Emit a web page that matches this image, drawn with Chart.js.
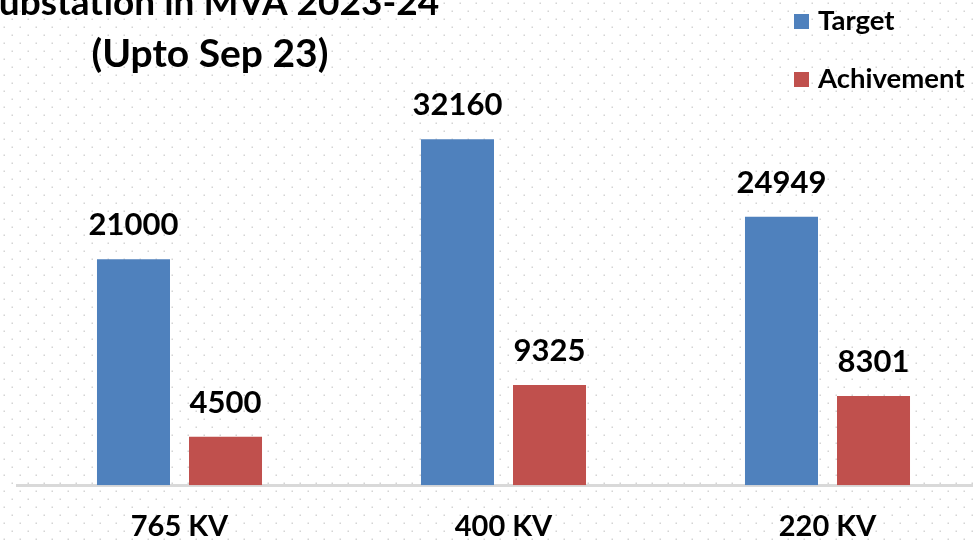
<!DOCTYPE html>
<html>
<head>
<meta charset="utf-8">
<script src="https://cdn.jsdelivr.net/npm/chart.js@4.4.1/dist/chart.umd.min.js"></script>
<style>
    html, body { margin: 0; padding: 0; background: #ffffff; overflow: hidden; }
    #wrap { position: relative; width: 1000px; height: 568px; }
</style>
</head>
<body>
<div id="wrap"><canvas id="graphe"></canvas></div>
<script>
// Données du graphique
const categories = ['765 KV', '400 KV', '220 KV'];
const target = [21000, 32160, 24949];
const achivement = [4500, 9325, 8301];
const seriesNames = ['Target', 'Achivement'];
const titleLines = ['Substation in MVA 2023-24', '(Upto Sep 23)'];

const FONT = 'Lato, "Open Sans", sans-serif';
const BLUE = '#4f81bd';
const RED = '#c0504d';

// Fond pointillé façon Excel
const dotsPlugin = {
    id: 'dots',
    beforeDraw(chart) {
        const ctx = chart.ctx;
        ctx.save();
        ctx.fillStyle = '#ffffff';
        ctx.fillRect(0, 0, chart.width, chart.height);
        ctx.fillStyle = '#d4d4d4';
        let row = 0;
        for (let y = 3; y < chart.height; y += 8) {
            const x0 = (row % 2 === 0) ? 12 : 4;
            for (let x = x0; x < chart.width; x += 16) {
                ctx.fillRect(x - 0.5, y - 0.5, 1.5, 1.5);
            }
            row++;
        }
        ctx.restore();
    }
};

// Titre, légende et valeurs au-dessus des barres
const labelsPlugin = {
    id: 'labels',
    afterDatasetsDraw(chart) {
        const ctx = chart.ctx;
        ctx.save();
        ctx.fillStyle = '#000000';
        ctx.textAlign = 'center';
        ctx.textBaseline = 'alphabetic';
        ctx.font = 'bold 31px ' + FONT;
        chart.data.datasets.forEach((ds, i) => {
            chart.getDatasetMeta(i).data.forEach((bar, j) => {
                ctx.fillText(String(ds.data[j]), bar.x, bar.y - 24);
            });
        });

        // titre
        ctx.font = 'bold 37px ' + FONT;
        ctx.fillText(titleLines[0], 209, 15);
        ctx.font = 'bold 39px ' + FONT;
        ctx.fillText(titleLines[1], 210, 67);

        // légende
        ctx.textAlign = 'left';
        ctx.font = 'bold 27.5px ' + FONT;
        const colors = [BLUE, RED];
        const ys = [14, 72];
        seriesNames.forEach((name, i) => {
            ctx.fillStyle = colors[i];
            ctx.fillRect(794, ys[i], 15, 15);
            ctx.fillStyle = '#000000';
            ctx.fillText(name, 818, ys[i] + 16);
        });
        ctx.restore();
    }
};

new Chart(document.getElementById('graphe').getContext('2d'), {
    type: 'bar',
    data: {
        labels: categories,
        datasets: [
            { label: seriesNames[0], data: target, backgroundColor: BLUE },
            { label: seriesNames[1], data: achivement, backgroundColor: RED }
        ]
    },
    options: {
        responsive: true,
        maintainAspectRatio: false,
        animation: false,
        categoryPercentage: 0.568,
        barPercentage: 0.7935,
        layout: { padding: { left: 17.5, right: 10.5, top: 55, bottom: 0 } },
        plugins: {
            legend: { display: false },
            title: { display: false },
            tooltip: { enabled: false }
        },
        scales: {
            x: {
                grid: { display: false, drawTicks: false },
                border: { display: true, color: '#d9d9d9', width: 3 },
                ticks: {
                    color: '#000000',
                    padding: 24,
                    font: { family: FONT, size: 29, weight: 'bold' }
                }
            },
            y: {
                display: false,
                min: 0,
                max: 40000
            }
        }
    },
    plugins: [dotsPlugin, labelsPlugin]
});
</script>
</body>
</html>
